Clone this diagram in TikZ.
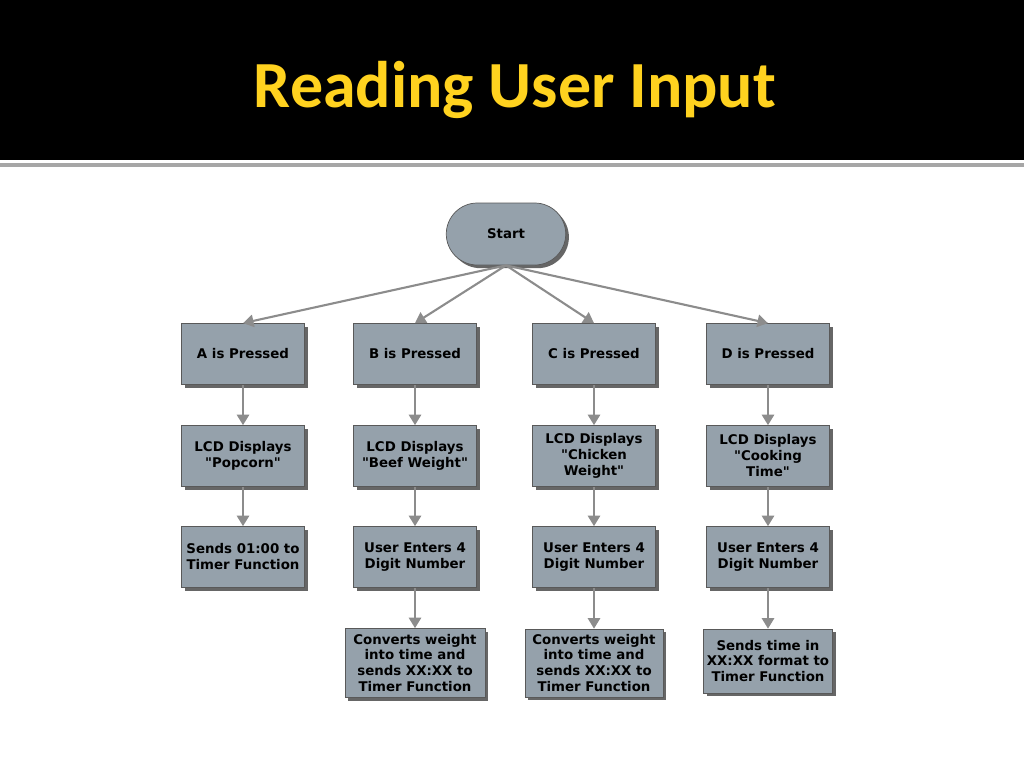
\documentclass[tikz,border=0pt]{standalone}
\usepackage{fontspec}
\setmainfont{DejaVu Sans}
\newfontfamily\titlefont{Carlito}
\usetikzlibrary{arrows.meta, shapes.misc, shadows}
\definecolor{boxgray}{HTML}{95A1AB}
\definecolor{titleyellow}{HTML}{FFD21F}

\begin{document}
\begin{tikzpicture}[x=0.02cm, y=-0.02cm,
    box/.style={draw=black!65, line width=0.4pt, fill=boxgray, align=center,
      font=\bfseries\fontsize{7.6}{9.1}\selectfont, inner sep=1pt,
      minimum width=2.46cm, minimum height=1.22cm,
      drop shadow={shadow xshift=1.8pt, shadow yshift=-1.8pt, fill=black, opacity=0.6}},
    startbox/.style={box, rounded rectangle, minimum height=1.24cm},
    flow/.style={draw=black!45, line width=1.2pt, -{Triangle[length=6pt, width=7pt]}}]
      \useasboundingbox (0,0) rectangle (1024,768);
      \fill[black] (0,0) rectangle (1024,160);
      \draw[black!35, line width=2pt] (0,165) -- (1024,165);

      \node[text=titleyellow, font=\titlefont\bfseries\fontsize{37.5}{40}\selectfont] (title) at (515,90) {Reading User Input};

      \node[startbox] (start) at (506,234) {Start};

      \node[box] (a1) at (243,354) {A is Pressed};
      \node[box] (b1) at (415,354) {B is Pressed};
      \node[box] (c1) at (594,354) {C is Pressed};
      \node[box] (d1) at (768,354) {D is Pressed};

      \node[box] (a2) at (243,456) {LCD Displays\\\textquotedbl Popcorn\textquotedbl};
      \node[box] (b2) at (415,456) {LCD Displays\\\textquotedbl Beef Weight\textquotedbl};
      \node[box] (c2) at (594,456) {LCD Displays\\\textquotedbl Chicken\\Weight\textquotedbl};
      \node[box] (d2) at (768,456) {LCD Displays\\\textquotedbl Cooking\\Time\textquotedbl};

      \node[box] (a3) at (243,557) {Sends 01:00 to\\Timer Function};
      \node[box] (b3) at (415,557) {User Enters 4\\Digit Number};
      \node[box] (c3) at (594,557) {User Enters 4\\Digit Number};
      \node[box] (d3) at (768,557) {User Enters 4\\Digit Number};

      \node[box, minimum width=2.8cm, minimum height=1.38cm] (b4) at (415,663) {Converts weight\\into time and\\sends XX:XX to\\Timer Function};
      \node[box, minimum width=2.76cm, minimum height=1.36cm] (c4) at (594,663) {Converts weight\\into time and\\sends XX:XX to\\Timer Function};
      \node[box, minimum width=2.58cm, minimum height=1.28cm] (d4) at (768,661) {Sends time in\\XX:XX format to\\Timer Function};

      \draw[flow] (start.south) -- (a1.north);
      \draw[flow] (start.south) -- (b1.north);
      \draw[flow] (start.south) -- (c1.north);
      \draw[flow] (start.south) -- (d1.north);

      \draw[flow] (a1) -- (a2);
      \draw[flow] (a2) -- (a3);
      \draw[flow] (b1) -- (b2);
      \draw[flow] (b2) -- (b3);
      \draw[flow] (b3) -- (b4);
      \draw[flow] (c1) -- (c2);
      \draw[flow] (c2) -- (c3);
      \draw[flow] (c3) -- (c4);
      \draw[flow] (d1) -- (d2);
      \draw[flow] (d2) -- (d3);
      \draw[flow] (d3) -- (d4);
    \end{tikzpicture}
\end{document}
